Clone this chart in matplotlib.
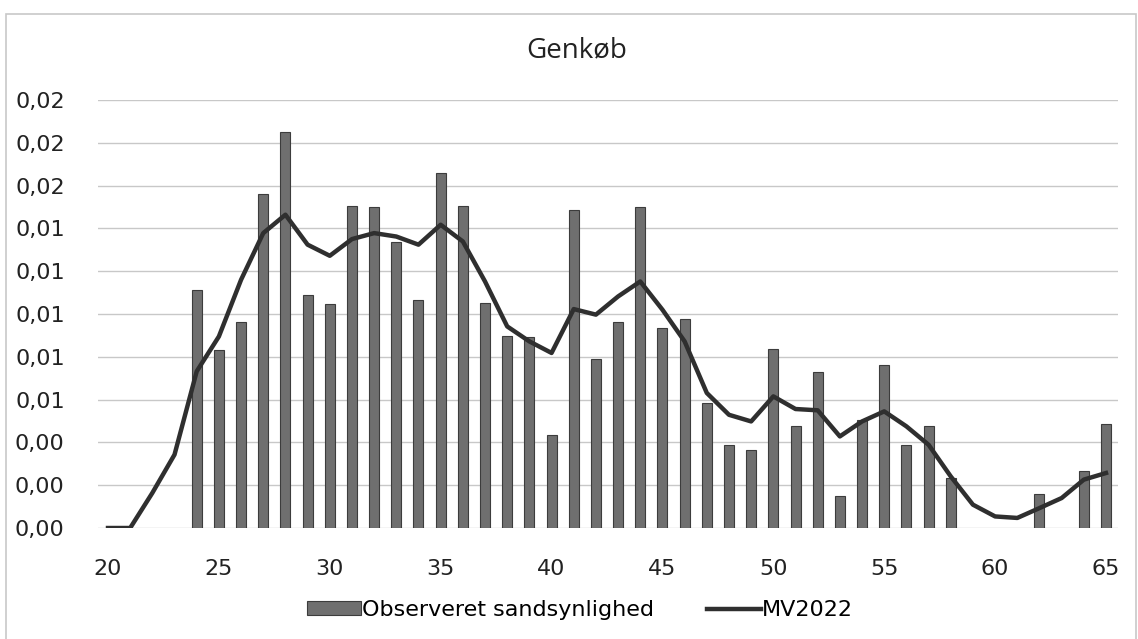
import numpy as np
import matplotlib
matplotlib.use('Agg')
import matplotlib.pyplot as plt
from matplotlib.patches import Rectangle
from matplotlib.ticker import FuncFormatter, MultipleLocator

# alder 20-65
ages = list(range(20, 66))

# observeret sandsynlighed (0 = ingen søjle)
observed = [0, 0, 0, 0,
            0.01110, 0.00830, 0.00964, 0.01562, 0.01850, 0.01089,
            0.01047, 0.01506, 0.01501, 0.01335, 0.01067, 0.01660,
            0.01503, 0.01050, 0.00895, 0.00893, 0.00436, 0.01484,
            0.00791, 0.00964, 0.01500, 0.00935, 0.00978, 0.00584,
            0.00389, 0.00366, 0.00836, 0.00475, 0.00729, 0.00148,
            0.00506, 0.00763, 0.00389, 0.00475, 0.00234, 0,
            0, 0, 0.00159, 0, 0.00268, 0.00487]

# MV2022
mv2022 = [0, 0, 0.00164, 0.00343, 0.00732, 0.00895, 0.01160, 0.01378,
          0.01464, 0.01324, 0.01272, 0.01350, 0.01378, 0.01362, 0.01324,
          0.01417, 0.01339, 0.01152, 0.00942, 0.00872, 0.00818, 0.01023,
          0.00997, 0.01082, 0.01152, 0.01020, 0.00872, 0.00631, 0.00529,
          0.00498, 0.00615, 0.00556, 0.00550, 0.00428, 0.00498, 0.00545,
          0.00475, 0.00389, 0.00241, 0.00109, 0.00054, 0.00047, 0.00093,
          0.00140, 0.00226, 0.00257]

fig = plt.figure(figsize=(11.38, 6.39), dpi=100)
ax = fig.add_axes([98 / 1138, 1 - 528 / 639, 1020 / 1138, 428 / 639])

bar_x = [a for a, v in zip(ages, observed) if v > 0]
bar_h = [v for v in observed if v > 0]
bars = ax.bar(bar_x, bar_h, width=0.45, color='#6f6f6f', edgecolor='#3c3c3c',
              linewidth=0.8, label='Observeret sandsynlighed', zorder=2)
line, = ax.plot(ages, mv2022, color='#2f2f2f', linewidth=3.2,
                solid_joinstyle='round', label='MV2022', zorder=3)

ax.set_xlim(20 - 10 / 22.178, 65 + 12 / 22.178)
ax.set_ylim(0, 0.02)
ax.yaxis.set_major_locator(MultipleLocator(0.002))
ax.xaxis.set_major_locator(MultipleLocator(5))
ax.yaxis.set_major_formatter(FuncFormatter(lambda v, p: f'{v:.2f}'.replace('.', ',')))
ax.grid(axis='y', color='#c8c8c8', linewidth=1.0, zorder=0)
for s in ax.spines.values():
    s.set_visible(False)
ax.tick_params(length=0, labelsize=16, colors='#222222')
ax.tick_params(axis='y', pad=24)
ax.tick_params(axis='x', pad=22)

fig.text(577 / 1138, 1 - 50 / 639, 'Genkøb', ha='center', va='center',
         fontsize=20, family='Open Sans', color='#222222')

fig.legend(handles=[bars, line], loc='center',
           bbox_to_anchor=(580 / 1138, 1 - 610 / 639), ncol=2,
           frameon=False, fontsize=16, handlelength=2.4, handleheight=0.6,
           handletextpad=0.05, columnspacing=2.4)

fig.patches.append(Rectangle((6 / 1138, -0.01), 1130 / 1138, 1 - 14 / 639 + 0.01,
                             transform=fig.transFigure, fill=False,
                             edgecolor='#c8c8c8', linewidth=1.2))

fig.savefig('out.png', dpi=100)
